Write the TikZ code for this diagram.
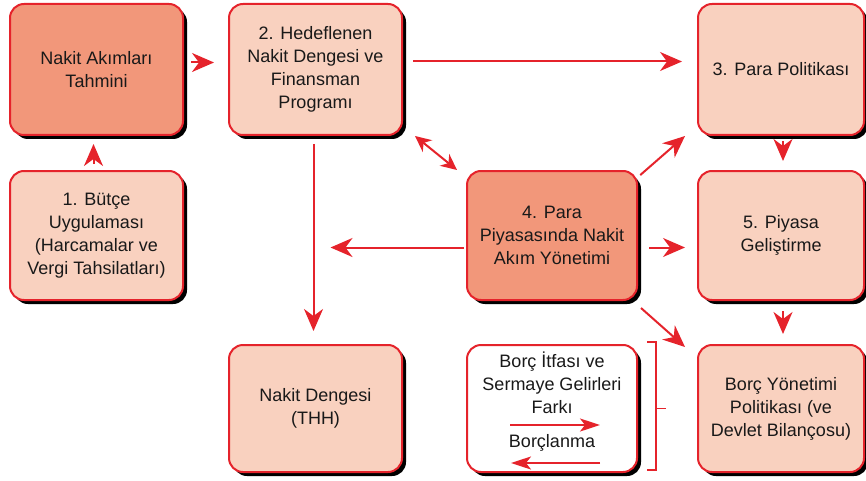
\documentclass[tikz,border=0pt]{standalone}
\usepackage{fontspec}
\setmainfont{Liberation Sans}
\usetikzlibrary{arrows.meta,shadows}

\definecolor{kirmizi}{HTML}{E5232B}
\definecolor{koyu}{HTML}{F2977A}
\definecolor{acik}{HTML}{F9D1BF}

\tikzset{
    kutu/.style={draw=kirmizi, line width=2pt, rounded corners=14pt, fill=acik,
        minimum width=173pt, minimum height=131pt, align=center, text=black!90,
        font=\fontsize{18}{23}\selectfont,
        drop shadow={shadow xshift=4pt, shadow yshift=-4pt, opacity=1, fill=black}},
    koyukutu/.style={kutu, fill=koyu},
    yazi/.style={align=center, text=black!90, font=\fontsize{18}{23}\selectfont},
    ok/.style={draw=kirmizi, line width=2pt, -{Stealth[length=22pt,width=19pt,inset=7pt]}},
    okcift/.style={draw=kirmizi, line width=2pt, {Stealth[length=16pt,width=15pt,inset=5pt]}-{Stealth[length=16pt,width=15pt,inset=5pt]}},
    okince/.style={draw=kirmizi, line width=2pt, -{Stealth[length=20pt,width=13pt,inset=5pt]}},
    parantez/.style={draw=kirmizi, line width=1.5pt}
}

\begin{document}
\begin{tikzpicture}[x=1pt,y=-1pt]
    \useasboundingbox (0,0) rectangle (866,481);

    \node[koyukutu] (tahmin) at (96.5,69.5) {Nakit Akımları\\Tahmini};
    \node[kutu] (hedef) at (315.5,69.5) {2. Hedeflenen\\Nakit Dengesi ve\\Finansman\\Programı};
    \node[kutu, minimum width=166pt] (para) at (781,69.5) {3. Para Politikası};
    \node[kutu, minimum height=129pt] (butce) at (96.5,235.5) {1. Bütçe\\Uygulaması\\(Harcamalar ve\\Vergi Tahsilatları)};
    \node[koyukutu, minimum width=170pt, minimum height=129pt] (akim) at (552,235.5) {4. Para\\Piyasasında Nakit\\Akım Yönetimi};
    \node[kutu, minimum width=166pt, minimum height=129pt] (piyasa) at (781,235.5) {5. Piyasa\\Geliştirme};
    \node[kutu, minimum height=127pt] (denge) at (315.5,408.5) {Nakit Dengesi\\(THH)};
    \node[kutu, fill=white, minimum width=170pt, minimum height=127pt] (borc) at (552,408.5) {};
    \node[kutu, minimum width=166pt, minimum height=127pt] (yonetim) at (781,408.5) {Borç Yönetimi\\Politikası (ve\\Devlet Bilançosu)};

    \node[yazi] (itfa) at (552,383) {Borç İtfası ve\\Sermaye Gelirleri\\Farkı};
    \node[yazi] (borclanma) at (552,443) {Borçlanma};
    \coordinate (fark1) at (510,425);
    \coordinate (fark2) at (600,425);
    \coordinate (borc1) at (600,463);
    \coordinate (borc2) at (511,463);
    \draw[okince] (fark1) -- (fark2);
    \draw[okince] (borc1) -- (borc2);

    \draw[ok, shorten <=7pt, shorten >=14pt] ([yshift=7pt]tahmin.east) -- ([yshift=7pt]hedef.west);
    \draw[ok, shorten <=6pt, shorten >=8pt] ([xshift=-3pt]butce.north) -- ([xshift=-3pt]tahmin.south);
    \draw[ok, shorten <=10pt, shorten >=15pt] ([yshift=8pt]hedef.east) -- ([yshift=8pt]para.west);
    \draw[okcift] ([xshift=12pt]hedef.south east) -- ([xshift=-9pt]akim.north west);
    \draw[ok, shorten <=8pt, shorten >=13pt] ([xshift=-2pt]hedef.south) -- ([xshift=-2pt]denge.north);
    \draw[ok, shorten <=2pt, shorten >=15pt] ([yshift=-12pt]akim.west) -- ([yshift=-12pt]akim.west -| hedef.south);
    \draw[ok, shorten <=3pt] ([yshift=-7pt]akim.north east) -- ([xshift=-12pt]para.south west);
    \draw[ok, shorten <=11pt, shorten >=12pt] ([yshift=-12pt]akim.east) -- ([yshift=-12pt]piyasa.west);
    \draw[ok] ([xshift=3pt,yshift=-7pt]akim.south east) -- ([xshift=-12pt,yshift=-3pt]yonetim.north west);
    \draw[ok, shorten <=5pt, shorten >=9pt] ([xshift=2pt]para.south) -- ([xshift=2pt]piyasa.north);
    \draw[ok, shorten <=10pt, shorten >=10pt] ([xshift=2pt]piyasa.south) -- ([xshift=2pt]yonetim.north);

    \draw[parantez] ([xshift=9pt,yshift=2pt]borc.north east) -| ([xshift=18pt]borc.east) |- ([xshift=9pt,yshift=3pt]borc.south east);
    \draw[parantez] ([xshift=18pt]borc.east) -- ([xshift=28pt]borc.east);
\end{tikzpicture}
\end{document}
